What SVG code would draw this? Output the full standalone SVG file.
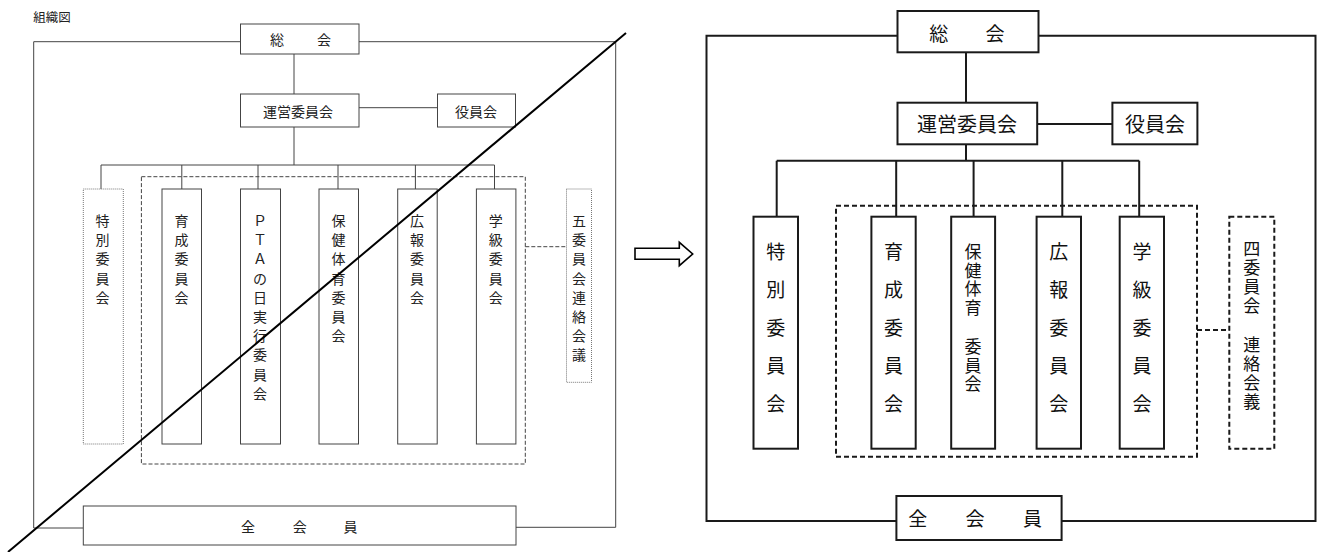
<svg xmlns="http://www.w3.org/2000/svg" width="1322" height="552" viewBox="0 0 1322 552">
<style>
.bg{fill:#ffffff}
.lbox{fill:#ffffff;stroke:#444;stroke-width:1}
.ldot{fill:#ffffff;stroke:#777;stroke-width:1;stroke-dasharray:1 1}
.ldash{fill:none;stroke:#444;stroke-width:1;stroke-dasharray:4 2}
.lline{fill:none;stroke:#444;stroke-width:1}
.rbox{fill:#ffffff;stroke:#1a1a1a;stroke-width:2}
.rdash{fill:none;stroke:#1a1a1a;stroke-width:2;stroke-dasharray:5 3}
.rline{fill:none;stroke:#1a1a1a;stroke-width:2}
.lt{font-family:"Noto Sans CJK JP","Noto Sans",sans-serif;font-size:14px;fill:#222;text-anchor:middle;dominant-baseline:central}
.rt{font-family:"Noto Sans CJK JP","Noto Sans",sans-serif;font-size:19px;fill:#111;text-anchor:middle;dominant-baseline:central}
.rts{font-family:"Noto Sans CJK JP","Noto Sans",sans-serif;font-size:17px;fill:#111;text-anchor:middle;dominant-baseline:central}
</style>
<rect class="bg" x="0" y="0" width="1322" height="552"/>

<text class="lt" x="52" y="16" style="font-size:12.5px">組織図</text>

<!-- LEFT DIAGRAM -->
<g id="left-connectors">
  <path class="lline" d="M240.5,41.7 H33.7 V528 H83.3"/>
  <path class="lline" d="M359,41.7 H615.7 V527.3 H516"/>
  <path class="lline" d="M294,54 V94"/>
  <path class="lline" d="M359,107.7 H437.5"/>
  <path class="lline" d="M294,127 V165"/>
  <path class="lline" d="M101,165 H494.5"/>
  <path class="lline" d="M101,165 V189 M181.8,165 V189 M258,165 V189 M338,165 V189 M415.4,165 V189 M494.5,165 V189"/>
  <path class="ldash" d="M525.3,246.7 H566.5"/>
</g>

<g id="L-group">
  <rect class="ldash" x="141.4" y="176.7" width="383.9" height="287.3"/>
</g>

<g id="L-soukai">
  <rect class="lbox" x="240.5" y="24" width="118.5" height="30"/>
  <text class="lt" x="277" y="39">総</text><text class="lt" x="324" y="39">会</text>
</g>
<g id="L-unei">
  <rect class="lbox" x="240.5" y="94" width="118.5" height="33"/>
  <text class="lt" x="298" y="110.5">運営委員会</text>
</g>
<g id="L-yakuin">
  <rect class="lbox" x="437.5" y="94" width="78" height="33"/>
  <text class="lt" x="476" y="110.5">役員会</text>
</g>
<g id="L-tokubetsu">
  <rect class="ldot" x="83.3" y="189" width="40" height="255"/>
  <text class="lt"><tspan x="102.5" y="220">特</tspan><tspan x="102.5" y="239.2">別</tspan><tspan x="102.5" y="258.4">委</tspan><tspan x="102.5" y="277.6">員</tspan><tspan x="102.5" y="296.8">会</tspan></text>
</g>
<g id="L-ikusei">
  <rect class="lbox" x="162" y="189" width="39.5" height="255"/>
  <text class="lt"><tspan x="181.5" y="220">育</tspan><tspan x="181.5" y="239.2">成</tspan><tspan x="181.5" y="258.4">委</tspan><tspan x="181.5" y="277.6">員</tspan><tspan x="181.5" y="296.8">会</tspan></text>
</g>
<g id="L-pta">
  <rect class="lbox" x="240.5" y="189" width="40" height="255"/>
  <text class="lt"><tspan x="260" y="220">Ｐ</tspan><tspan x="260" y="239.2">Ｔ</tspan><tspan x="260" y="258.4">Ａ</tspan><tspan x="260" y="277.6">の</tspan><tspan x="260" y="296.8">日</tspan><tspan x="260" y="316">実</tspan><tspan x="260" y="335.2">行</tspan><tspan x="260" y="354.4">委</tspan><tspan x="260" y="373.6">員</tspan><tspan x="260" y="392.8">会</tspan></text>
</g>
<g id="L-hoken">
  <rect class="lbox" x="319" y="189" width="39.5" height="255"/>
  <text class="lt"><tspan x="338.5" y="220">保</tspan><tspan x="338.5" y="239.2">健</tspan><tspan x="338.5" y="258.4">体</tspan><tspan x="338.5" y="277.6">育</tspan><tspan x="338.5" y="296.8">委</tspan><tspan x="338.5" y="316">員</tspan><tspan x="338.5" y="335.2">会</tspan></text>
</g>
<g id="L-kouhou">
  <rect class="lbox" x="397.7" y="189" width="39.5" height="255"/>
  <text class="lt"><tspan x="417" y="220">広</tspan><tspan x="417" y="239.2">報</tspan><tspan x="417" y="258.4">委</tspan><tspan x="417" y="277.6">員</tspan><tspan x="417" y="296.8">会</tspan></text>
</g>
<g id="L-gakkyu">
  <rect class="lbox" x="476.4" y="189" width="39.5" height="255"/>
  <text class="lt"><tspan x="495.8" y="220">学</tspan><tspan x="495.8" y="239.2">級</tspan><tspan x="495.8" y="258.4">委</tspan><tspan x="495.8" y="277.6">員</tspan><tspan x="495.8" y="296.8">会</tspan></text>
</g>
<g id="L-go">
  <rect class="ldot" x="566.5" y="189" width="25" height="193.3"/>
  <text class="lt"><tspan x="579" y="220">五</tspan><tspan x="579" y="239.2">委</tspan><tspan x="579" y="258.4">員</tspan><tspan x="579" y="277.6">会</tspan><tspan x="579" y="296.8">連</tspan><tspan x="579" y="316">絡</tspan><tspan x="579" y="335.2">会</tspan><tspan x="579" y="354.4">議</tspan></text>
</g>
<g id="L-zenkaiin">
  <rect class="lbox" x="83.3" y="506" width="432.7" height="39"/>
  <text class="lt"><tspan x="248" y="526">全</tspan><tspan x="299.7" y="526">会</tspan><tspan x="350.6" y="526">員</tspan></text>
</g>

<!-- strike-through diagonal -->
<line x1="8" y1="552" x2="626" y2="33" stroke="#000" stroke-width="2"/>

<!-- arrow -->
<path d="M635,248.3 H679.3 V242.3 L692.7,254 L679.3,265.7 V259.3 H635 Z" fill="#ffffff" stroke="#000" stroke-width="1.6" stroke-linejoin="miter"/>

<!-- RIGHT DIAGRAM -->
<g id="right-connectors">
  <path class="rline" d="M897.5,35.7 H706.5 V521 H896.4"/>
  <path class="rline" d="M1038.5,35.7 H1315.5 V521 H1061.6"/>
  <path class="rline" d="M966,52.3 V102.7"/>
  <path class="rline" d="M1037.2,124 H1112.4"/>
  <path class="rline" d="M966,144.3 V160.7"/>
  <path class="rline" d="M776.7,160.7 H1139.2"/>
  <path class="rline" d="M776.7,160.7 V216.7 M896.2,160.7 V216.7 M973.6,160.7 V216.7 M1062.3,160.7 V216.7 M1139.2,160.7 V216.7"/>
  <path class="rdash" d="M1197,330 H1229.3"/>
</g>

<g id="R-group">
  <rect class="rdash" x="836" y="205.7" width="361" height="251"/>
</g>

<g id="R-soukai">
  <rect class="rbox" x="897.5" y="11" width="141" height="41.3"/>
  <text class="rt"><tspan x="938.7" y="32">総</tspan><tspan x="995" y="32">会</tspan></text>
</g>
<g id="R-unei">
  <rect class="rbox" x="897.5" y="102.7" width="139.7" height="41.6"/>
  <text class="rt" x="967" y="123.5" style="font-size:20px">運営委員会</text>
</g>
<g id="R-yakuin">
  <rect class="rbox" x="1112.4" y="102.7" width="85" height="41.6"/>
  <text class="rt" x="1155" y="123.5" style="font-size:20px">役員会</text>
</g>
<g id="R-tokubetsu">
  <rect class="rbox" x="753.5" y="216.7" width="44.5" height="232"/>
  <text class="rt"><tspan x="775.7" y="250">特</tspan><tspan x="775.7" y="288">別</tspan><tspan x="775.7" y="326">委</tspan><tspan x="775.7" y="364">員</tspan><tspan x="775.7" y="402">会</tspan></text>
</g>
<g id="R-ikusei">
  <rect class="rbox" x="871.4" y="216.7" width="44.3" height="232"/>
  <text class="rt"><tspan x="893.5" y="250">育</tspan><tspan x="893.5" y="288">成</tspan><tspan x="893.5" y="326">委</tspan><tspan x="893.5" y="364">員</tspan><tspan x="893.5" y="402">会</tspan></text>
</g>
<g id="R-hoken">
  <rect class="rbox" x="951.2" y="216.7" width="43.9" height="232"/>
  <text class="rts"><tspan x="973" y="250">保</tspan><tspan x="973" y="268.5">健</tspan><tspan x="973" y="287">体</tspan><tspan x="973" y="305.5">育</tspan><tspan x="973" y="345">委</tspan><tspan x="973" y="363.5">員</tspan><tspan x="973" y="382">会</tspan></text>
</g>
<g id="R-kouhou">
  <rect class="rbox" x="1036.6" y="216.7" width="44.4" height="232"/>
  <text class="rt"><tspan x="1058.8" y="250">広</tspan><tspan x="1058.8" y="288">報</tspan><tspan x="1058.8" y="326">委</tspan><tspan x="1058.8" y="364">員</tspan><tspan x="1058.8" y="402">会</tspan></text>
</g>
<g id="R-gakkyu">
  <rect class="rbox" x="1119.7" y="216.7" width="44.3" height="232"/>
  <text class="rt"><tspan x="1141.9" y="250">学</tspan><tspan x="1141.9" y="288">級</tspan><tspan x="1141.9" y="326">委</tspan><tspan x="1141.9" y="364">員</tspan><tspan x="1141.9" y="402">会</tspan></text>
</g>
<g id="R-yon">
  <rect class="rdash" x="1229.3" y="216.7" width="45" height="232"/>
  <text class="rts"><tspan x="1251.8" y="247">四</tspan><tspan x="1251.8" y="266">委</tspan><tspan x="1251.8" y="285">員</tspan><tspan x="1251.8" y="304">会</tspan><tspan x="1251.8" y="343">連</tspan><tspan x="1251.8" y="362">絡</tspan><tspan x="1251.8" y="381">会</tspan><tspan x="1251.8" y="400">義</tspan></text>
</g>
<g id="R-zenkaiin">
  <rect class="rbox" x="896.4" y="496" width="165.2" height="44"/>
  <text class="rt"><tspan x="917.7" y="517">全</tspan><tspan x="975" y="517">会</tspan><tspan x="1032.6" y="517">員</tspan></text>
</g>
</svg>
